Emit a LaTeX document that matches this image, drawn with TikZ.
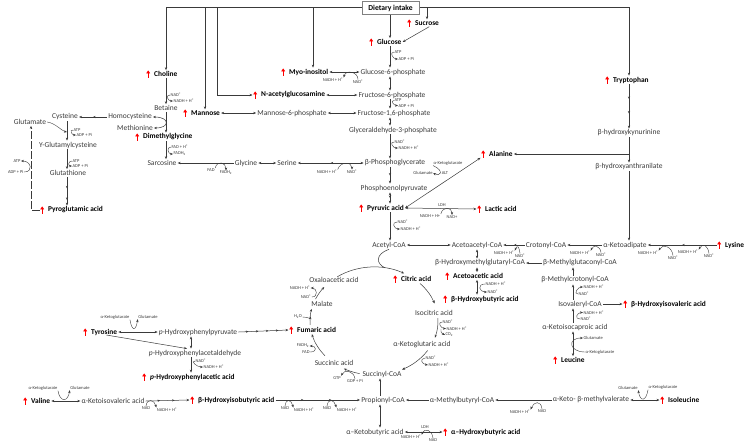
\documentclass[tikz,border=0pt]{standalone}
\usepackage{fontspec}
\setmainfont{Carlito}
\usetikzlibrary{arrows.meta,decorations.markings,calc}
\definecolor{upred}{HTML}{FF0000}
\definecolor{ink}{HTML}{3A3A3A}
\tikzset{
  met/.style={font=\fontsize{7.5}{8}\selectfont, text=ink, inner sep=1pt},
  hit/.style={font=\fontsize{7.4}{8}\selectfont\bfseries, anchor=west, inner sep=1pt,
    execute at begin node=\hspace{7.5pt},
    path picture={\draw[upred, line width=1pt, -{Triangle[length=3pt,width=3.8pt]}]
      ([xshift=2.5pt,yshift=-3.6pt]path picture bounding box.west) --
      ([xshift=2.5pt,yshift=3.6pt]path picture bounding box.west);}},
  cof/.style={font=\fontsize{4.5}{5}\selectfont, text=ink, inner sep=0.4pt},
  rx/.style={draw=ink, line width=0.5pt, ->},
  rxx/.style={draw=ink, line width=0.5pt, <->},
  cofa/.style={draw=ink, line width=0.4pt, ->},
  midtip/.style={postaction={decorate},decoration={markings,
    mark=between positions #1 and 0.96 step #1 with {\arrow{Stealth[length=2.5pt,width=2.2pt]}}}},
}
\begin{document}
\begin{tikzpicture}[x=1pt,y=-1pt,>={Stealth[length=3pt,width=2.4pt]}]
\useasboundingbox (0,0) rectangle (749,445);

% columns
\coordinate (cA) at (166,7);
\coordinate (cM) at (205,7);
\coordinate (cN) at (217,7);
\coordinate (cI) at (313,7);
\coordinate (cS) at (427,7);
\coordinate (cT) at (629,7);
\coordinate (kG) at (390,0);
\coordinate (kT) at (629,0);
\coordinate (kY) at (67,0);
\coordinate (kD) at (31,0);
\coordinate (kH) at (477,0);
\coordinate (kL) at (573,0);
\coordinate (kP) at (380,0);
\coordinate (kF) at (191,0);
\coordinate (cc) at (374,321); % TCA cycle centre

% metabolites
\node[met] (betaine) at (166,108) {Betaine};
\node[met] (cysteine) at (65,117) {Cysteine};
\node[met] (homocys) at (130,117) {Homocysteine};
\node[met] (methionine) at (135,128) {Methionine};
\node[met] (glutamate) at (30,122) {Glutamate};
\node[met] (ygc) at (68,145) {Y-Glutamylcysteine};
\node[met] (glutathione) at (68,173) {Glutathione};
\node[met] (sarcosine) at (162,163) {Sarcosine};
\node[met] (glycine) at (246,163) {Glycine};
\node[met] (serine) at (287,163) {Serine};
\node[met] (bpg) at (395,163) {β-Phosphoglycerate};
\node[met] (pep) at (394,188) {Phosphoenolpyruvate};
\node[met] (acetylcoa) at (389,245) {Acetyl-CoA};
\node[met] (oaa) at (334,280) {Oxaloacetic acid};
\node[met] (g6p) at (393,72) {Glucose-6-phosphate};
\node[met] (f6p) at (392,95) {Fructose-6-phosphate};
\node[met] (man6p) at (292,113) {Mannose-6-phosphate};
\node[met] (f16p) at (394,113) {Fructose-1,6-phosphate};
\node[met] (gap) at (393,130) {Glyceraldehyde-3-phosphate};
\node[met] (bhk) at (629,133) {β-hydroxykynurinine};
\node[met] (bha) at (629,167) {β-hydroxyanthranilate};
\node[met] (akad) at (625,245) {α-Ketoadipate};
\node[met] (acacoa) at (477,245) {Acetoacetyl-CoA};
\node[met] (crotonyl) at (546,245) {Crotonyl-CoA};
\node[met] (hmg) at (480,263) {β-Hydroxymethylglutaryl-CoA};
\node[met] (mglut) at (580,263) {β-Methylglutaconyl-CoA};
\node[met] (mcrot) at (575,280) {β-Methylcrotonyl-CoA};
\node[met] (isocitric) at (434,313) {Isocitric acid};
\node[met] (akg) at (422,345) {α-Ketoglutaric acid};
\node[met] (succoa) at (382,374) {Succinyl-CoA};
\node[met] (propcoa) at (383,400) {Propionyl-CoA};
\node[met] (ambcoa) at (462,400) {α-Methylbutyryl-CoA};
\node[met] (akmv) at (591,400) {α-Keto- β-methylvalerate};
\node[met] (akb) at (375,432) {α–Ketobutyric acid};
\node[met] (ivcoa) at (580,304) {Isovaleryl-CoA};
\node[met] (akic) at (575,327) {α-Ketoisocaproic acid};
\node[met] (hppyr) at (198,332) {\textit{p}-Hydroxyphenylpyruvate};
\node[met] (hpald) at (195,353) {\textit{p}-Hydroxyphenylacetaldehyde};
\node[met] (akiv) at (113,401) {α-Ketoisovaleric acid};
\node[met] (malate) at (322,304) {Malate};
\node[met] (succinic) at (334,363) {Succinic acid};

% raised metabolites
\node[hit] (choline) at (145.5,74) {Choline};
\node[hit] (dmg) at (134.5,137) {Dimethylglycine};
\node[hit] (mannose) at (182.5,113) {Mannose};
\node[hit] (nag) at (252.5,95) {N-acetylglucosamine};
\node[hit] (myo) at (280.5,72) {Myo-inositol};
\node[hit] (glucose) at (368.5,42) {Glucose};
\node[hit] (sucrose) at (406.5,23) {Sucrose};
\node[hit] (tryp) at (604.5,80) {Tryptophan};
\node[hit] (pyroglu) at (39.5,210) {Pyroglutamic acid};
\node[hit] (alanine) at (480.5,154) {Alanine};
\node[hit] (pyruvic) at (358.5,208) {Pyruvic acid};
\node[hit] (lactic) at (476.5,209) {Lactic acid};
\node[hit] (citric) at (392.5,279) {Citric acid};
\node[hit] (acetoac) at (444.5,276) {Acetoacetic acid};
\node[hit] (bhb) at (442.5,299) {β-Hydroxybutyric acid};
\node[hit] (lysine) at (716.5,245) {Lysine};
\node[hit] (bhiva) at (622.5,304) {β-Hydroxyisovaleric acid};
\node[hit] (leucine) at (552.5,360) {Leucine};
\node[hit] (tyrosine) at (82.5,332) {Tyrosine};
\node[hit] (fumaric) at (288.5,330) {Fumaric acid};
\node[hit] (phpaa) at (141.5,377) {\textit{p}-Hydroxyphenylacetic acid};
\node[hit] (valine) at (22.5,401) {Valine};
\node[hit] (bhiba) at (189.5,400) {β-Hydroxyisobutyric acid};
\node[hit] (isoleucine) at (659.5,400) {Isoleucine};
\node[hit] (ahb) at (442.5,432) {α–Hydroxybutyric acid};

% dietary intake
\draw[ink, line width=0.5pt] (cA) -- (cT);
\node[draw=gray, fill=white, font=\fontsize{7.6}{9}\selectfont\bfseries, minimum width=57pt,
  minimum height=13pt, inner sep=1pt] (diet) at (390.5,8) {Dietary intake};
\draw[rx] (cA) -- (cA |- choline.north);
\draw[rx] (cM) -- (cM |- mannose.north);
\draw[rx] (cN) -- (cN |- nag) -- (nag.west);
\draw[rx] (cI) -- (cI |- myo.north);
\draw[rx] (diet.south -| kG) -- (kG |- glucose.north);
\draw[rx] (cS) -- (cS |- sucrose.north);
\draw[rx] (cT) -- (cT |- tryp.north);
\draw[rx] ($(sucrose.south)+(6,0)$) -- (glucose.east);

% glycolysis
\draw[rx] (kG |- glucose.south) -- (kG |- g6p.north);
\node[cof, anchor=west] (q1a) at (394,52) {ATP};
\node[cof, anchor=west] (q1b) at (398,59) {ADP + Pi};
\draw[cofa] (q1a.west) .. controls +(-5,0) and +(-5,0) .. (q1b.west);
\draw[rxx] (kG |- g6p.south) -- (kG |- f6p.north);
\draw[rx] (kG |- f6p.south) -- (kG |- f16p.north);
\node[cof, anchor=west] (q2a) at (394,100.5) {ATP};
\node[cof, anchor=west] (q2b) at (398,105.5) {ADP + Pi};
\draw[cofa] (q2a.west) .. controls +(-4,0) and +(-4,0) .. (q2b.west);
\draw[rxx] (kG |- f16p.south) -- (kG |- gap.north);
\draw[rx] (kG |- gap.south) -- (kG |- bpg.north);
\node[cof, anchor=west] (q3a) at (394,142) {NAD\textsuperscript{+}};
\node[cof, anchor=west] (q3b) at (398,148) {NADH + H\textsuperscript{+}};
\draw[cofa] (q3a.west) .. controls +(-5,0) and +(-5,0) .. (q3b.west);
\draw[rx, midtip=0.5] (kG |- bpg.south) -- (kG |- pep.north);
\draw[rxx, midtip=0.5] (kG |- pep.south) -- (kG |- pyruvic.north);
\draw[rx] (kG |- pyruvic.south) -- (kG |- acetylcoa.north);
\node[cof, anchor=west] (q4a) at (397,222) {NAD\textsuperscript{+}};
\node[cof, anchor=west] (q4b) at (400,229) {NADH + H\textsuperscript{+}};
\draw[cofa] (q4a.west) .. controls +(-6,0) and +(-6,0) .. (q4b.west);

% sugars
\draw[rxx] (myo.east) -- (g6p.west);
\node[cof] (q5a) at (333,80) {NADH + H\textsuperscript{+}};
\node[cof] (q5b) at (358,82) {NAD\textsuperscript{+}};
\draw[cofa] (q5b.north) .. controls +(0,-8) and +(2,-8) .. (q5a.north east);
\draw[rxx] (nag.east) -- (f6p.west);
\draw[rxx] (mannose.east) -- (man6p.west);
\draw[rxx] (man6p.east) -- (f16p.west);

% choline and glutathione
\draw[rx] (cA |- choline.south) -- (cA |- betaine.north);
\node[cof, anchor=west] (q6a) at (170,95) {NAD\textsuperscript{+}};
\node[cof, anchor=west] (q6b) at (173,101) {NADH + H\textsuperscript{+}};
\draw[cofa] (q6a.west) .. controls +(-5,0) and +(-5,0) .. (q6b.west);
\draw[rx] (cA |- betaine.south) -- (cA |- dmg.north);
\draw[rxx] (methionine.east) .. controls (170,128) and (170,117) .. (homocys.east);
\draw[rx, midtip=0.5] (homocys.west) -- (cysteine.east);
\draw[rx] (cA |- dmg.south) -- (cA |- sarcosine.north);
\node[cof, anchor=west] (q7a) at (171,147) {FAD + H\textsuperscript{+}};
\node[cof, anchor=west] (q7b) at (173,154) {FADH\textsubscript{2}};
\draw[cofa] (q7a.west) .. controls +(-5,0) and +(-5,0) .. (q7b.west);
\draw[rx] (glycine.west) -- (sarcosine.east);
\node[cof] (q8a) at (211,170) {FAD};
\node[cof] (q8b) at (226,173) {FADH\textsubscript{2}};
\draw[cofa] (q8a.north east) .. controls +(2,-8) and +(0,-8) .. (q8b.north);
\draw[rxx] (serine.west) -- (glycine.east);
\draw[rxx, midtip=0.5] (bpg.west) -- (serine.east);
\node[cof] (q9a) at (327,172) {NADH + H\textsuperscript{+}};
\node[cof] (q9b) at (352,172) {NAD\textsuperscript{+}};
\draw[cofa] (q9a.north east) .. controls +(2,-8) and +(0,-8) .. (q9b.north);

\draw[rx] (kY |- cysteine.south) -- (kY |- ygc.north);
\draw[cofa] (glutamate.east) .. controls (55,123) and (62,131) .. (kY |- 0,132);
\node[cof, anchor=west] (q10a) at (73,130) {ATP};
\node[cof, anchor=west] (q10b) at (76,135) {ADP + Pi};
\draw[cofa] (q10a.west) .. controls +(-4,0) and +(-4,0) .. (q10b.west);
\draw[rx] (kY |- ygc.south) -- (kY |- glutathione.north);
\node[cof, anchor=west] (q11a) at (72,161) {ATP};
\node[cof, anchor=west] (q11b) at (72,166) {ADP + Pi};
\draw[cofa] (q11a.west) .. controls +(-4,0) and +(-4,0) .. (q11b.west);
\draw[rx, midtip=0.4] (kY |- glutathione.south) -- (kY |- pyroglu.north);
\draw[ink, line width=0.5pt, dash pattern=on 8pt off 2pt, ->] (pyroglu.west) -- (kD |- pyroglu) -- (kD |- glutamate.south);
\node[cof, anchor=east] (q12a) at (21,161) {ATP};
\node[cof, anchor=east] (q12b) at (24,172) {ADP + Pi};
\draw[cofa] (q12b.east) .. controls +(10,0) and +(10,0) .. (q12a.east);

% pyruvate branches
\draw[rxx] (pyruvic.east) -- (alanine.south west);
\node[cof] (q13a) at (448,163) {α-Ketoglutarate};
\node[cof] (q13b) at (423,173) {Glutamate};
\node[cof] (q13c) at (445,173) {ALT};
\draw[cofa] (q13a.south west) .. controls (445,171) and (440,177) .. (q13b.east);
\draw[rx] (kT |- alanine) -- (alanine.east);
\draw[rxx] (pyruvic.east) -- (lactic.west);
\node[cof] (q14c) at (442,205) {LDH};
\node[cof] (q14a) at (430,216) {NADH + H+};
\node[cof] (q14b) at (452,217) {NAD+};
\draw[cofa] (q14a.north east) .. controls +(2,-8) and +(0,-8) .. (q14b.north);

% tryptophan, lysine
\draw[rx, midtip=0.33] (kT |- tryp.south) -- (kT |- bhk.north);
\draw[rx] (kT |- bhk.south) -- (kT |- bha.north);
\draw[rx] (kT |- bha.south) -- (kT |- akad.north);
\draw[rx, midtip=0.5] (lysine.west) -- (akad.east);
\node[cof] (q15a) at (648,253) {NADH + H\textsuperscript{+}};
\node[cof] (q15b) at (673,258) {NAD\textsuperscript{+}};
\draw[cofa] (q15b.north) .. controls +(-1,-9) and +(4,-7) .. (q15a.north east);
\node[cof] (q16a) at (688,252) {NADH + H\textsuperscript{+}};
\node[cof] (q16b) at (709,256) {NAD\textsuperscript{+}};
\draw[cofa] (q16b.north) .. controls +(-1,-8) and +(4,-7) .. (q16a.north east);
\draw[rx] (akad.west) -- (crotonyl.east);
\node[cof] (q17a) at (580,253) {NADH + H\textsuperscript{+}};
\node[cof] (q17b) at (601,255) {NAD\textsuperscript{+}};
\draw[cofa] (q17b.north) .. controls +(-1,-7) and +(3,-6) .. (q17a.north east);
\draw[rx, midtip=0.5] (crotonyl.west) -- (acacoa.east);
\node[cof] (q18a) at (504,253) {NADH + H\textsuperscript{+}};
\node[cof] (q18b) at (520,256) {NAD\textsuperscript{+}};
\draw[cofa] (q18b.north) .. controls +(-1,-7) and +(3,-6) .. (q18a.north east);
\draw[rxx] (acetylcoa.east) -- (acacoa.west);

% ketone bodies, leucine
\draw[rxx] (kH |- acacoa.south) -- (kH |- hmg.north);
\draw[rx] (mglut.west) -- (hmg.east);
\draw[rxx] (kH |- hmg.south) -- (kH |- acetoac.north);
\draw[rxx] (kH |- acetoac.south) -- (kH |- bhb.north);
\node[cof, anchor=west] (q19a) at (485,284) {NADH + H\textsuperscript{+}};
\node[cof, anchor=west] (q19b) at (487,292) {NAD\textsuperscript{+}};
\draw[cofa] (q19a.west) .. controls +(-8,0) and +(-8,0) .. (q19b.west);
\draw[rx] (kL |- mcrot.north) -- (kL |- mglut.south);
\draw[rx] (kL |- ivcoa.north) -- (kL |- mcrot.south);
\node[cof, anchor=west] (q20a) at (583,287) {NADH + H\textsuperscript{+}};
\node[cof, anchor=west] (q20b) at (578,294) {NAD\textsuperscript{+}};
\draw[cofa] (q20b.west) .. controls +(-5,0) and +(-5,0) .. (q20a.west);
\draw[rx] (ivcoa.east) -- (bhiva.west);
\draw[rx] (kL |- akic.north) -- (kL |- ivcoa.south);
\node[cof, anchor=west] (q21a) at (583,312.5) {NADH + H\textsuperscript{+}};
\node[cof, anchor=west] (q21b) at (580,319) {NAD\textsuperscript{+}};
\draw[cofa] (q21b.west) .. controls +(-6,0) and +(-6,0) .. (q21a.west);
\draw[rxx] (kL |- akic.south) -- (kL |- leucine.north);
\node[cof, anchor=west] (q22a) at (583,338) {Glutamate};
\node[cof, anchor=west] (q22b) at (585,352) {α-Ketoglutarate};
\draw[cofa] (q22b.west) .. controls +(-16,0) and +(-16,0) .. (q22a.west);

% TCA cycle
\coordinate (t1) at ($(cc)+(235:64 and 54)$);
\coordinate (t2) at ($(cc)+(316:64 and 54)$);
\coordinate (t3) at ($(cc)+(357:64 and 54)$);
\coordinate (t4) at ($(cc)+(33:64 and 54)$);
\coordinate (t5) at ($(cc)+(103:64 and 54)$);
\coordinate (t6) at ($(cc)+(140:64 and 54)$);
\coordinate (t7) at ($(cc)+(176:64 and 54)$);
\coordinate (t8) at ($(cc)+(204:64 and 54)$);
\coordinate (t9) at ($(cc)+(280:64 and 54)$);
\draw[rx] (t1) arc[start angle=235, end angle=298, x radius=64, y radius=54];
\draw[ink, line width=0.5pt] (acetylcoa.south) .. controls (375,254) and (376,264) .. (t9);
\draw[rx] (t2) arc[start angle=316, end angle=341, x radius=64, y radius=54];
\draw[rx] (t3) arc[start angle=357, end angle=378, x radius=64, y radius=54];
\node[cof, anchor=west] (q23a) at (442,322) {NAD\textsuperscript{+}};
\node[cof, anchor=west] (q23b) at (446,328.5) {NADH + H\textsuperscript{+}};
\node[cof, anchor=west] (q23c) at (445,335) {CO\textsubscript{2}};
\draw[cofa] (q23a.west) .. controls +(-5,0) and +(-5,0) .. (q23b.west);
\draw[cofa] ($(q23b.west)+(-5,0.5)$) .. controls +(0,4) .. (q23c.west);
\draw[rx] (t4) arc[start angle=33, end angle=64, x radius=64, y radius=54];
\node[cof, anchor=west] (q24a) at (425,358) {NAD\textsuperscript{+}};
\node[cof, anchor=west] (q24b) at (428,365) {NADH + H\textsuperscript{+}};
\draw[cofa] (q24a.west) .. controls +(-6,1) and +(-6,-1) .. (q24b.west);
\draw[rx] (t5) arc[start angle=103, end angle=118, x radius=64, y radius=54];
\node[cof] (q25a) at (337,378) {GTP};
\node[cof] (q25b) at (355,381) {GDP + Pi};
\draw[cofa] (q25b.north) .. controls +(-1,-8) and +(3,-7) .. (q25a.north east);
\draw[rx] (t6) arc[start angle=140, end angle=166, x radius=64, y radius=54];
\node[cof] (q26a) at (303,346) {FADH\textsubscript{2}};
\node[cof] (q26b) at (306,352) {FAD};
\draw[cofa] (q26b.east) .. controls +(7,0) and +(7,0) .. (q26a.east);
\draw[rx] (t7) arc[start angle=176, end angle=193, x radius=64, y radius=54];
\node[cof] (q27) at (298,317) {H\textsubscript{2}O};
\draw[cofa] (q27.east) .. controls +(6,0) and +(0,3) .. ($(cc)+(185:64 and 54)$);
\draw[rx] (t8) arc[start angle=204, end angle=219, x radius=64, y radius=54];
\node[cof] (q28a) at (300,288) {NADH + H\textsuperscript{+}};
\node[cof] (q28b) at (306,297) {NAD\textsuperscript{+}};
\draw[cofa] (q28b.east) .. controls +(7,0) and +(6,0) .. (q28a.east);

% propionyl-CoA
\draw[rx] (kP |- propcoa.north) -- (kP |- succoa.south);
\draw[rxx] (kP |- propcoa.south) -- (kP |- akb.north);
\draw[rxx] (akb.east) -- (ahb.west);
\node[cof] (q29c) at (425,427) {LDH};
\node[cof] (q29a) at (411,437) {NADH + H\textsuperscript{+}};
\node[cof] (q29b) at (433,440) {NAD};
\draw[cofa] (q29b.north) .. controls +(-1,-8) and +(3,-7) .. (q29a.north east);
\draw[rx] (ambcoa.west) -- (propcoa.east);
\draw[rx] (akmv.west) -- (ambcoa.east);
\node[cof] (q30a) at (520,412) {NADH + H\textsuperscript{+}};
\node[cof] (q30b) at (542,411) {NAD};
\draw[cofa] (q30b.north) .. controls +(-1,-9) and +(3,-8) .. (q30a.north east);
\draw[rxx] (akmv.east) -- (isoleucine.west);
\node[cof] (q31a) at (628,388) {Glutamate};
\node[cof] (q31b) at (663,387) {α-Ketoglutarate};
\draw[cofa] (q31b.south west) .. controls +(-2,12) and +(2,12) .. (q31a.south east);
\draw[rx, midtip=0.33] (bhiba.east) -- (propcoa.west);
\node[cof] (q32a) at (285,408) {NAD};
\node[cof] (q32b) at (304,410) {NADH + H\textsuperscript{+}};
\draw[cofa] (q32a.north) .. controls +(1,-8) and +(-2,-8) .. (q32b.north west);
\node[cof] (q33a) at (327,408) {NAD};
\node[cof] (q33b) at (347,410) {NADH + H\textsuperscript{+}};
\draw[cofa] (q33a.north) .. controls +(1,-8) and +(-2,-8) .. (q33b.north west);
\draw[rx, midtip=0.33] (akiv.east) -- (bhiba.west);
\node[cof] (q34a) at (146,408) {NAD};
\node[cof] (q34b) at (167,410) {NADH + H\textsuperscript{+}};
\draw[cofa] (q34a.north) .. controls +(1,-8) and +(-2,-8) .. (q34b.north west);
\draw[rxx] (valine.east) -- (akiv.west);
\node[cof] (q35a) at (43,388) {α-Ketoglutarate};
\node[cof] (q35b) at (80,388) {Glutamate};
\draw[cofa] (q35a.south east) .. controls +(2,12) and +(-2,12) .. (q35b.south west);

% tyrosine
\draw[rxx] (tyrosine.east) -- (hppyr.west);
\node[cof] (q36a) at (115,317) {α-Ketoglutarate};
\node[cof] (q36b) at (148,317) {Glutamate};
\draw[cofa] (q36a.south east) .. controls +(2,12) and +(-2,12) .. (q36b.south west);
\draw[rx] ($(tyrosine.east)+(-12,3)$) -- ($(hpald.north)+(-8,0)$);
\draw[rxx] (kF |- hppyr.south) -- (kF |- hpald.north);
\draw[rx] (kF |- hpald.south) -- (kF |- phpaa.north);
\node[cof, anchor=west] (q37a) at (195,361) {NAD\textsuperscript{+}};
\node[cof, anchor=west] (q37b) at (203,367) {NADH + H\textsuperscript{+}};
\draw[cofa] (q37a.west) .. controls +(-5,0) and +(-6,0) .. (q37b.west);
\draw[rx, midtip=0.2] (hppyr.east) -- (fumaric.west);
\end{tikzpicture}
\end{document}
